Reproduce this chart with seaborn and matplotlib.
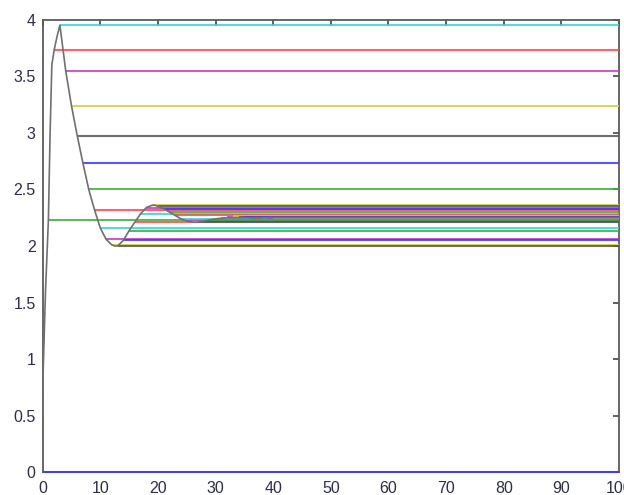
import matplotlib
matplotlib.use("Agg")
import matplotlib.pyplot as plt
import seaborn as sns
import pandas as pd

# continuous response curve
curve_t = [0, 0.1, 0.5, 1.0, 1.3, 1.6, 2.0, 2.5, 3.0, 3.5, 4, 5, 6, 7, 8, 9,
           10, 11, 12, 12.5, 13, 14, 15, 16, 17, 18, 19, 19.5, 20, 21, 22,
           23, 24, 25, 26, 27, 28, 29, 30, 32, 35, 40, 50, 100]
curve_y = [0.26, 0.9, 1.6, 2.23, 3.0, 3.6, 3.73, 3.85, 3.95, 3.75, 3.55,
           3.24, 2.975, 2.73, 2.50, 2.32, 2.16, 2.06, 2.01, 2.0, 2.0, 2.05,
           2.135, 2.21, 2.285, 2.34, 2.36, 2.36, 2.35, 2.33, 2.30, 2.27,
           2.24, 2.22, 2.21, 2.21, 2.22, 2.23, 2.24, 2.25, 2.25, 2.25, 2.25,
           2.25]

# sampled levels at integer steps, each drawn as a line out to t=100
step_k = list(range(0, 41))
step_level = [0.00, 2.23, 3.73, 3.95, 3.55, 3.24, 2.975, 2.73, 2.50, 2.32,
              2.16, 2.06, 2.01, 2.00, 2.05, 2.135, 2.21, 2.285, 2.34, 2.36,
              2.35, 2.33, 2.30, 2.27, 2.24, 2.22, 2.21, 2.21, 2.22, 2.23,
              2.24, 2.25, 2.26, 2.265, 2.26, 2.255, 2.25, 2.245, 2.245, 2.25,
              2.25]

# matlab-ish colour order: b g r c m y k
color_order = ['#3a3aff', '#3fae3f', '#ff4a4a', '#40d2d2', '#c83ec8',
               '#d2d040', '#555555']

sns.set_style("white")
plt.rcParams['font.family'] = ['Liberation Sans', 'DejaVu Sans']

fig = plt.figure(figsize=(6.24, 4.95), dpi=100)
ax = fig.add_axes([0.0683, 0.0455, 0.9237, 0.915])

colors = [color_order[k % len(color_order)] for k in step_k]
ax.hlines(step_level, xmin=step_k, xmax=100, colors=colors, linewidth=1.5,
          alpha=0.85, clip_on=False, zorder=2.6)

df = pd.DataFrame({"t": curve_t, "y": curve_y})
sns.lineplot(data=df, x="t", y="y", ax=ax, color='#707070', linewidth=1.2,
             zorder=3, sort=False)

ax.set_xlim(0, 100)
ax.set_ylim(0, 4)
ax.set_xticks(range(0, 101, 10))
ax.set_yticks([0, 0.5, 1, 1.5, 2, 2.5, 3, 3.5, 4])
ax.set_yticklabels(['0', '0.5', '1', '1.5', '2', '2.5', '3', '3.5', '4'])
ax.set_xlabel('')
ax.set_ylabel('')

for s in ax.spines.values():
    s.set_color('#5a5a5a')
    s.set_linewidth(1.3)
    s.set_visible(True)

ax.tick_params(direction='in', length=4, width=1.2, color='#444444',
               top=True, right=True, labelsize=11.5, labelcolor='#2e2e4a')
ax.tick_params(axis='x', pad=6)
ax.tick_params(axis='y', pad=5)

fig.savefig('out.png', dpi=100)
